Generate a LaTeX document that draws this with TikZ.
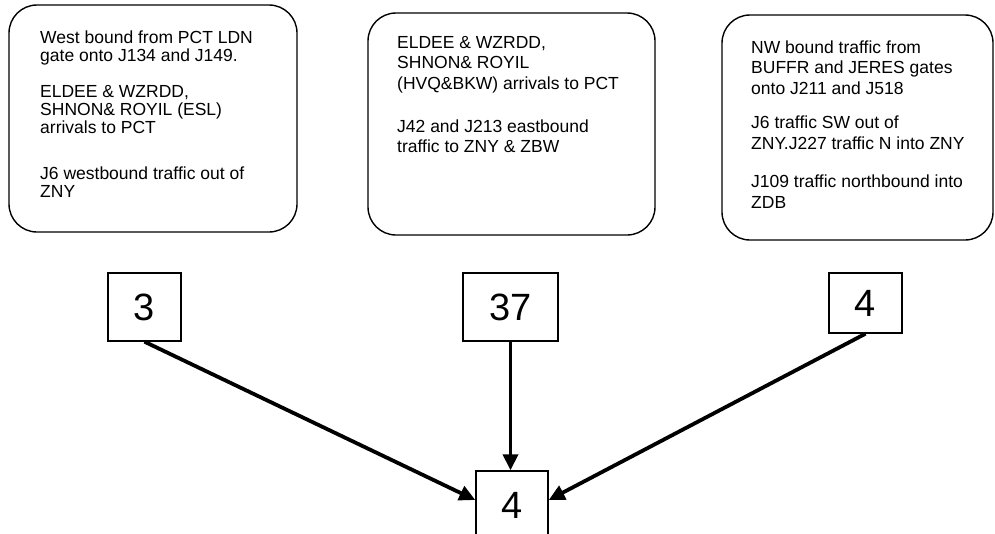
\documentclass[tikz,border=0pt]{standalone}
\usepackage{fontspec}
\setmainfont{Liberation Sans}
\usetikzlibrary{arrows.meta}
\tikzset{
  infobox/.style={draw=black, line width=1.4pt, rounded corners=28pt, inner sep=0pt},
  para/.style={anchor=base west, align=left, inner sep=0pt, font=\fontsize{17.5}{18}\selectfont},
  numbox/.style={draw=black, line width=1.4pt, inner sep=0pt, font=\fontsize{38}{40}\selectfont},
  flow/.style={line width=3.8pt, -{Triangle[length=16pt,width=15pt]}}
}
\begin{document}
\begin{tikzpicture}[x=1pt,y=-1pt]
\useasboundingbox[fill=white] (0,0) rectangle (995,533);
% rounded info boxes
\node[infobox, minimum width=288pt, minimum height=227pt] (boxA) at (153,118.5) {};
\node[infobox, minimum width=287pt, minimum height=222pt] (boxB) at (511.5,124) {};
\node[infobox, minimum width=271pt, minimum height=225pt] (boxC) at (857.5,127.5) {};
% texts box A (positions are baselines of the last line)
\node[para] (a1) at (40,61) {West bound from PCT LDN\\gate onto J134 and J149.};
\node[para] (a2) at (40,133) {ELDEE \& WZRDD,\\SHNON\& ROYIL (ESL)\\arrivals to PCT};
\node[para] (a3) at (40,197) {J6 westbound traffic out of\\ZNY};
% texts box B
\node[para, font=\fontsize{17.5}{20.5}\selectfont] (b1) at (397,89) {ELDEE \& WZRDD,\\SHNON\& ROYIL\\(HVQ\&BKW) arrivals to PCT};
\node[para, font=\fontsize{17.5}{20.5}\selectfont] (b2) at (397,152.5) {J42 and J213 eastbound\\traffic to ZNY \& ZBW};
% texts box C
\node[para, font=\fontsize{17.5}{20.5}\selectfont] (c1) at (751,94) {NW bound traffic from\\BUFFR and JERES gates\\onto J211 and J518};
\node[para, font=\fontsize{17.5}{21.5}\selectfont] (c2) at (751,149.5) {J6 traffic SW out of\\ZNY.J227 traffic N into ZNY};
\node[para, font=\fontsize{17.5}{21.5}\selectfont] (c3) at (751,208.5) {J109 traffic northbound into\\ZDB};
% number boxes
\node[numbox, minimum width=73pt, minimum height=68pt] (n3) at (144.5,307) {3};
\node[numbox, minimum width=95pt, minimum height=68pt] (n37) at (510.5,307) {37};
\node[numbox, minimum width=73pt, minimum height=60pt] (n4r) at (865.5,303) {4};
\node[numbox, minimum width=72pt, minimum height=68pt] (n4b) at (512,505) {4};
% connectors
\draw[flow] (n3.south) -- ([yshift=5pt]n4b.west);
\draw[flow] (n37.south) -- (n37.south |- n4b.north);
\draw[flow] (n4r.south) -- ([yshift=5pt]n4b.east);
\end{tikzpicture}
\end{document}
